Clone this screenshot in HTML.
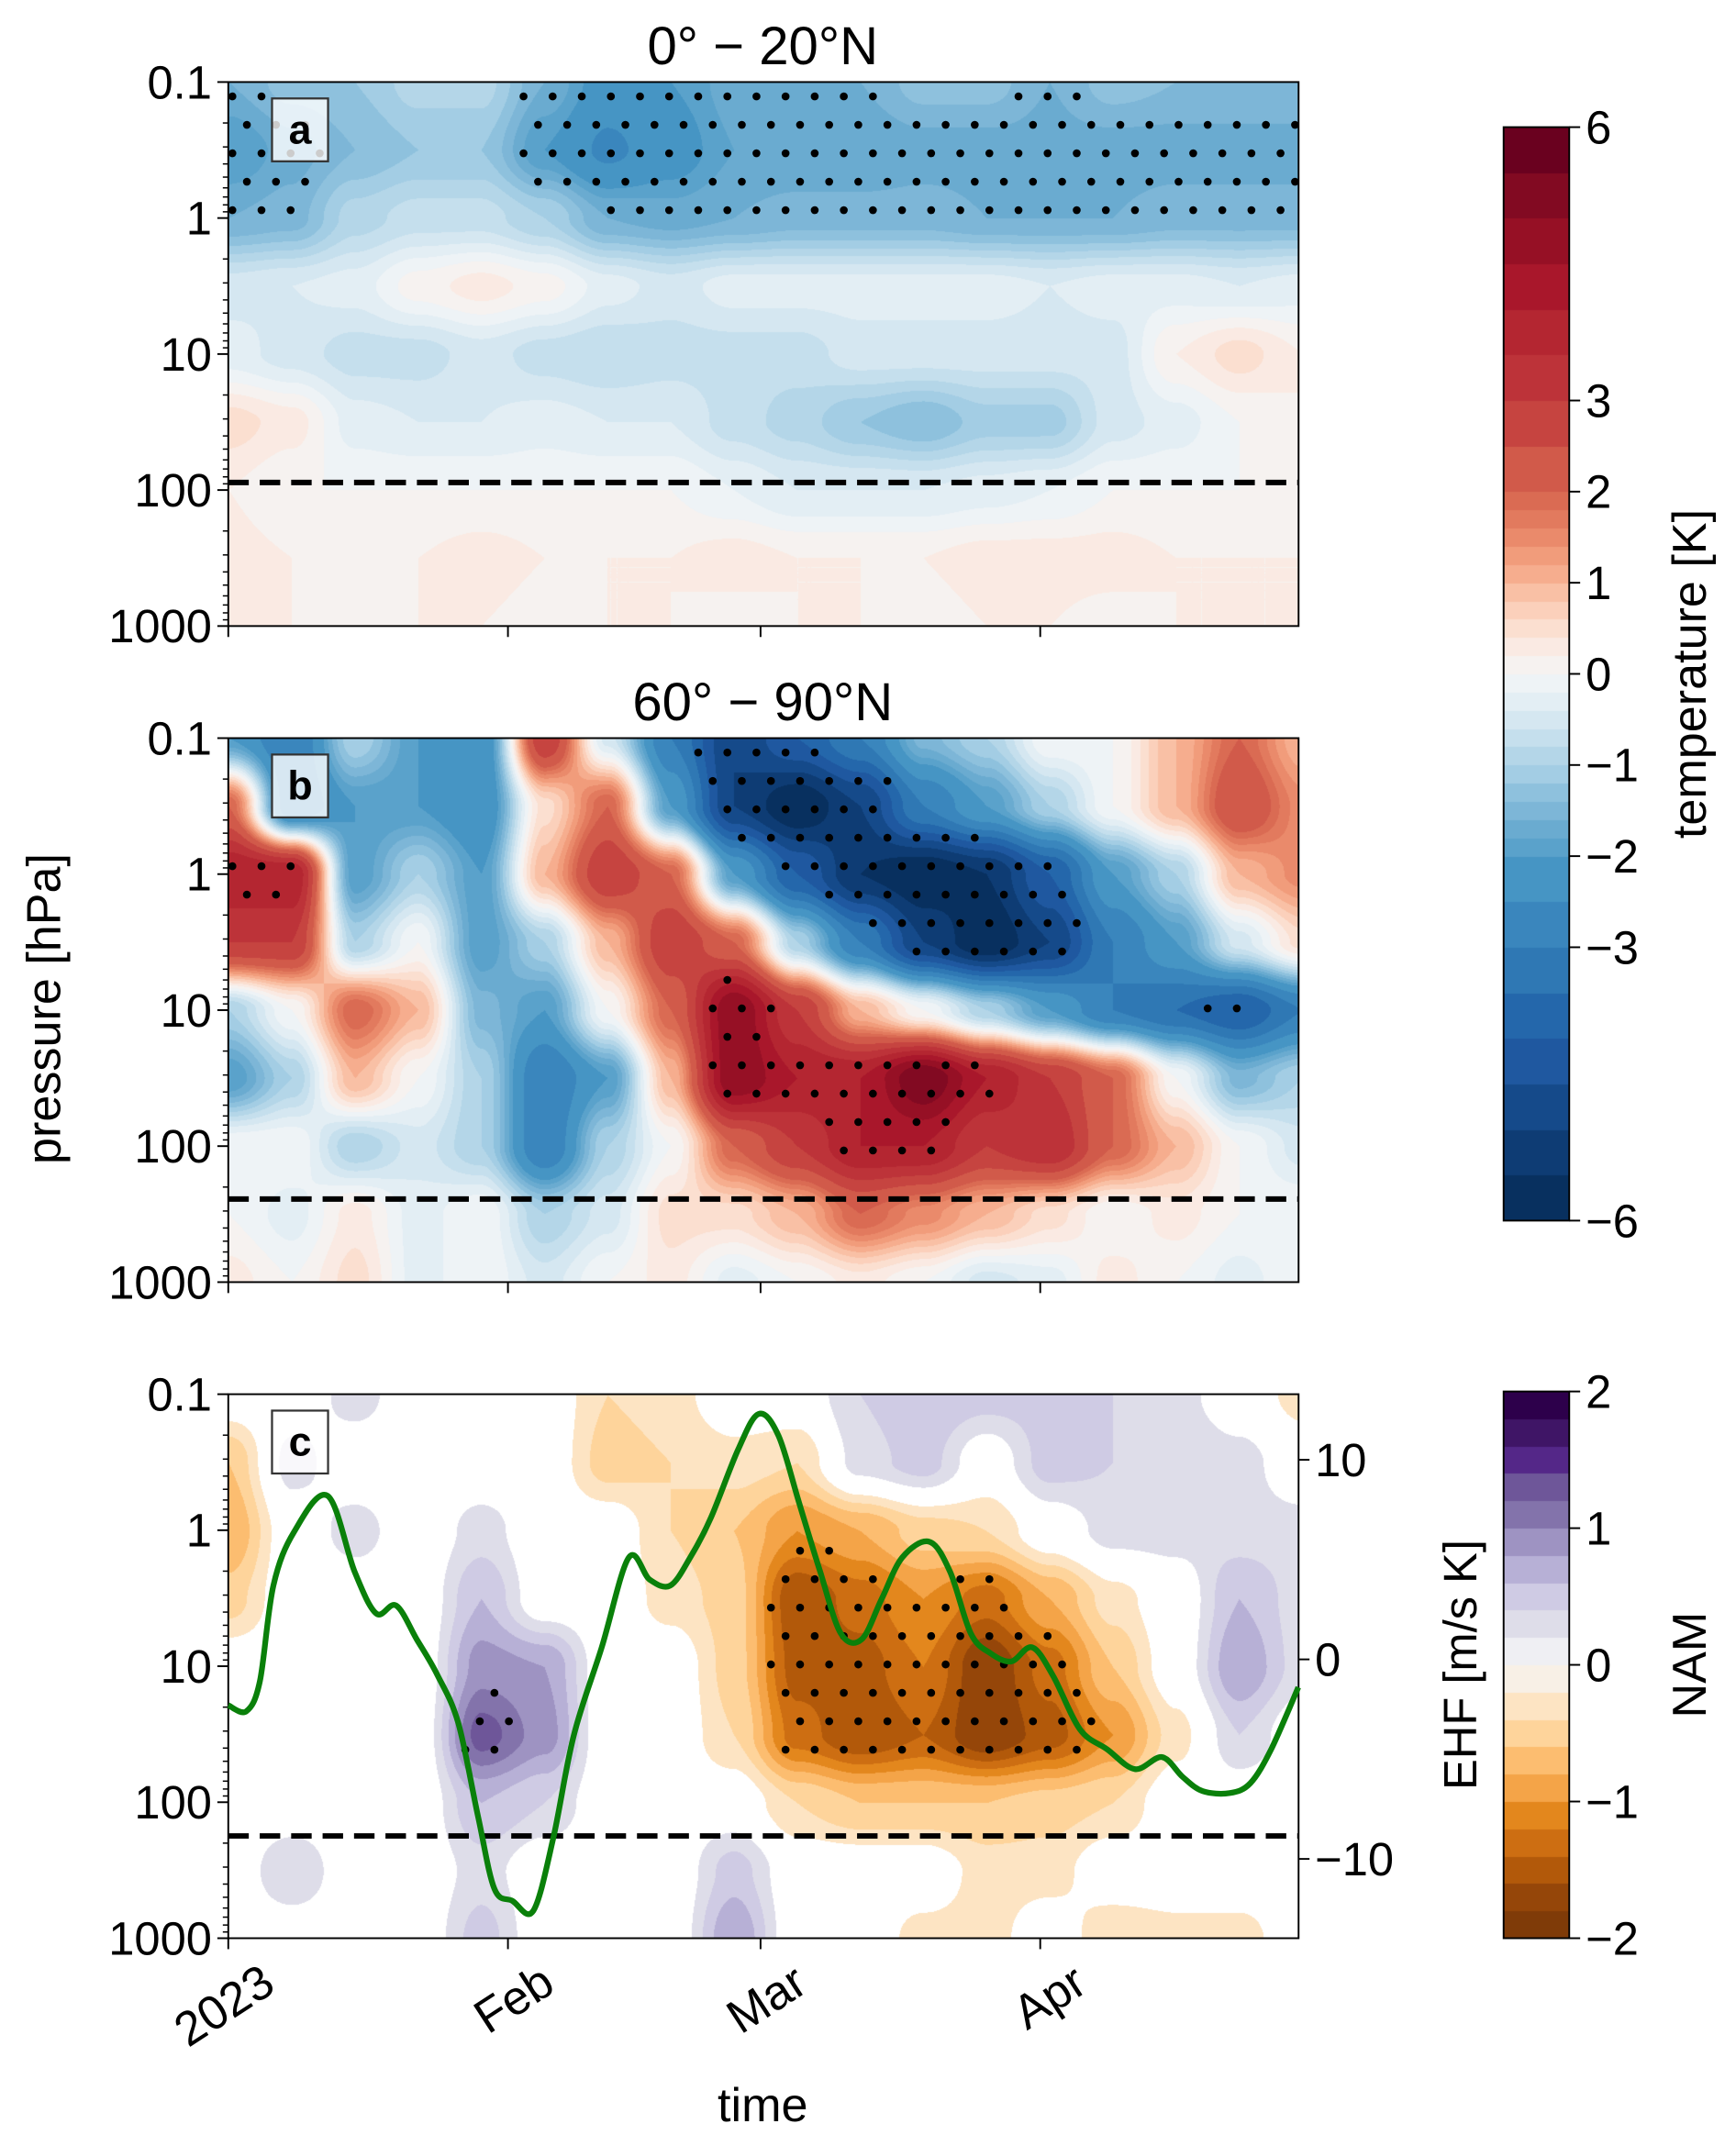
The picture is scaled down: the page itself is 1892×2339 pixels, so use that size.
<!DOCTYPE html>
<html><head><meta charset="utf-8">
<style>
html,body{margin:0;padding:0;background:#fff;}
#page{position:relative;width:1892px;height:2339px;overflow:hidden;background:#fff;}
canvas{position:absolute;}
svg{position:absolute;left:0;top:0;}
text{font-family:"Liberation Sans","DejaVu Sans",sans-serif;fill:#000;}
</style></head>
<body>
<div id="page">
<canvas id="cvA"></canvas>
<canvas id="cvB"></canvas>
<canvas id="cvC"></canvas>
<canvas id="cb1"></canvas>
<canvas id="cb2"></canvas>
<svg id="svg" width="1892" height="2339" viewBox="0 0 1270 1570"></svg>
</div>
<script>
// ---------- DATA ----------
const gridDays = [0,7,14,21,28,35,42,49,56,63,70,77,84,91,98,105,112,119];
const gridLogP = [-1,-0.5,0,0.5,1,1.5,2,2.5,3];
const tempA = [
 [-1.6,-1.3,-1.2,-0.9,-0.9,-1.6,-2.2,-2.0,-1.7,-1.7,-1.6,-1.3,-1.3,-1.6,-1.3,-1.4,-1.4,-1.4],
 [-2.0,-1.7,-1.4,-1.2,-1.2,-2.0,-2.6,-2.2,-1.8,-1.8,-1.8,-1.7,-1.7,-1.7,-1.7,-1.7,-1.7,-1.7],
 [-1.6,-1.5,-0.9,-0.7,-0.7,-1.0,-1.6,-1.7,-1.6,-1.5,-1.5,-1.5,-1.6,-1.6,-1.6,-1.5,-1.5,-1.5],
 [-0.5,-0.4,-0.3,0.1,0.3,0.1,-0.3,-0.5,-0.3,-0.3,-0.3,-0.3,-0.3,-0.4,-0.3,-0.3,-0.4,-0.3],
 [-0.3,-0.5,-0.7,-0.7,-0.5,-0.7,-0.8,-0.7,-0.7,-0.7,-0.5,-0.5,-0.5,-0.5,-0.5,0.2,0.5,0.2],
 [0.5,0.3,-0.3,-0.4,-0.4,-0.3,-0.4,-0.4,-0.7,-0.9,-1.2,-1.4,-1.1,-1.1,-0.5,-0.3,0,0.2],
 [0.2,0,0,0,0,0,0,0,-0.2,-0.4,-0.4,-0.4,-0.3,-0.2,0,0,0,0],
 [0.3,0.2,0.2,0.2,0.3,0.2,0.2,0.2,0.3,0.2,0.2,0.2,0.3,0.3,0.3,0.2,0.2,0.2],
 [0.2,0.2,0.1,0.2,0.2,0.1,0.2,0.2,0.1,0.2,0.2,0.1,0.2,0.2,0.1,0.2,0.2,0.2]
];
const tempB = [
 [-2,-3,-1,-2,-2.5,3,-0.5,-3,-5,-4,-3,-1.5,-1,0,0,1,2,1],
 [2,-3,-2,-2,-2.5,0.5,2,-2,-5,-6,-5,-3,-2,-1,0,1,2.5,1.5],
 [4,4,-2,-1,-2,1,3,2,-2,-4,-5.5,-6,-5.5,-4,-2,-1,1,1.5],
 [3,3,-1,0,-2,-1,1,3,2,-1,-3,-5,-6,-5,-3,-2,-0.5,0.5],
 [-1,0,2,1,-1.5,-2,0,2,5,3,1,0,-1,-2,-3,-3.5,-4,-3],
 [-2,-1,1,0,-1,-3,-2,1,5,4,4,5.5,4,3,2,0,-1.5,-1],
 [0,0,-1,-0.5,-1,-3,-1,0,2,3,4,4,3,3.5,2,1,0,-0.5],
 [0,-0.3,0.3,-0.3,0,-1,-0.5,0.5,0.5,1,2,1.5,1,0.5,0,0.3,0,0],
 [0.3,0,0.5,-0.3,0,-0.5,0,0.3,-0.3,0,0.3,0,-0.5,-0.3,0.3,0,-0.3,0]
];
const namC = [
 [0,0,0.3,0,0,0,-0.4,-0.3,0,0,0.4,0.6,0.5,0.5,0.4,0.3,0,-0.3],
 [-0.6,0.3,0,0,0,0,-0.5,-0.4,-0.3,-0.4,0.3,0.5,0,0.5,0.4,0.4,0.3,0],
 [-0.8,0,0.3,0,0.3,0,0,-0.4,-0.6,-1,-0.8,-0.5,-0.4,0,0.3,0.3,0.3,0.3],
 [-0.5,0,0,0,0.6,0,0,-0.3,-0.5,-1.6,-1.3,-1,-1.3,-0.8,-0.3,0,0.6,0.3],
 [0,0,0,0,0.9,0.8,0,0,-0.5,-1.5,-1.5,-1.2,-1.8,-1.3,-0.6,0,0.8,0.3],
 [0,0,0,0,1.3,0.9,0,0,-0.4,-1.3,-1.6,-1.4,-1.8,-1.5,-1,-0.3,0.4,0],
 [0,0,0,0,0.6,0.4,0,0,0,-0.4,-0.6,-0.6,-0.6,-0.5,-0.4,0,0,0],
 [0,0.4,0,0,0.3,0,0,0,0.5,0,0,0,-0.3,-0.3,0,0,0,0],
 [0,0,0,0,0.5,0,0,0,0.8,0,0,-0.3,-0.3,0,-0.4,-0.3,-0.3,0]
];
const ehfDays = [0,2,3.5,5,7.3,11,14,16.4,18.6,20.9,23.2,25.5,27.7,29.5,31.5,33.8,36,38.3,41.4,44.4,46.7,49,51.2,53.5,56.5,58.8,61,63.3,65.6,67.9,70.2,72.4,74.7,77.7,80,82.3,84.5,86.8,89.1,91.4,94.4,97.4,100.5,103.5,105.8,108,111,113.3,115.6,118.6];
const ehfVals = [-2.3,-2.6,-1.1,3.7,6.4,8.2,4.4,2.3,2.7,1.0,-0.8,-3.2,-7.9,-11.5,-12.1,-12.6,-9.0,-3.8,0.6,5.1,4.0,3.7,5.1,7.1,10.5,12.3,11.2,7.8,4.4,1.3,1.0,3.0,5.1,5.9,4.4,1.3,0.3,-0.1,0.6,-0.8,-3.5,-4.5,-5.5,-4.9,-5.9,-6.6,-6.7,-6.2,-4.5,-1.4];
const pTickLabels = ["0.1","1","10","100","1000"];
const pTickValues = [0.1,1,10,100,1000];
const monthLabels = ["2023","Feb","Mar","Apr"];
const monthDays = [0,31,59,90];
const ehfTicks = [10,0,-10];
const tempCbTicks = [6,3,2,1,0,-1,-2,-3,-6];
const namCbTicks = [2,1,0,-1,-2];
const dashedP = [88,245,177];

// ---------- GEOMETRY ----------
const S = 1892/1270;
const X0 = 167, X1 = 950, PX_PER_DAY = 6.6;
const panelTops = [60,540,1020];
const PH = 398, DEC = 99.5;
function xOf(d){return X0 + d*PX_PER_DAY;}
function yOfP(p,top){return top + (Math.log10(p)+1)*DEC;}
function dayOfX(x){return (x-X0)/PX_PER_DAY;}

function sample(g, day, lp){
  let c = (day-gridDays[0])/(gridDays[1]-gridDays[0]);
  let r = (lp-gridLogP[0])/(gridLogP[1]-gridLogP[0]);
  c = Math.max(0,Math.min(gridDays.length-1.0001,c));
  r = Math.max(0,Math.min(gridLogP.length-1.0001,r));
  const c0=Math.floor(c), r0=Math.floor(r), fc=c-c0, fr=r-r0;
  const sc = fc*fc*(3-2*fc), sr = fr*fr*(3-2*fr);
  const a=g[r0][c0], b=g[r0][c0+1], cc=g[r0+1][c0], d=g[r0+1][c0+1];
  return (a*(1-sc)+b*sc)*(1-sr)+(cc*(1-sc)+d*sc)*sr;
}
function hex(h){return [parseInt(h.substr(1,2),16),parseInt(h.substr(3,2),16),parseInt(h.substr(5,2),16)];}
const tBounds=[-6,-5.5,-5,-4.5,-4,-3.5,-3,-2.5,-2,-1.8,-1.6,-1.4,-1.2,-1,-0.8,-0.6,-0.4,-0.2,0,0.2,0.4,0.6,0.8,1,1.2,1.4,1.6,1.8,2,2.5,3,3.5,4,4.5,5,5.5,6];
const tCols=["#08305f","#0e3c74","#154a8a","#1f58a0","#2467ab","#2f78b4","#3a86bd","#4695c4","#5aa2cb","#6aabd0","#7db6d7","#8ec1dd","#a3cde4","#b4d6e8","#c5dfed","#d5e7f1","#e3eef4","#eef3f6","#f6f2f0","#faeae3","#fbdfd0","#fbd0bb","#f9c0a5","#f6ad8e","#f19c7b","#ea8a6b","#e27a5e","#da6b53","#d15a4a","#c64440","#bd3339","#b42631","#a9172b","#961025","#820a22","#6a011f"];
function tColor(v){
  if(v<=tBounds[0]) return hex(tCols[0]);
  for(let i=0;i<tCols.length;i++){ if(v<tBounds[i+1]) return hex(tCols[i]); }
  return hex(tCols[tCols.length-1]);
}
const nCols=["#7f3b08","#954609","#b2590a","#cd6e12","#e3871d","#f4a448","#fcbd70","#fed49b","#fde4c3","#f8f0e6","#efeff3","#dedde9","#cfcbe4","#b7b0d6","#9e93c2","#8373ab","#6e5699","#542788","#3f1566","#2d004b"];
function nColor(v){
  let i=Math.floor((v+2)/0.2); i=Math.max(0,Math.min(19,i)); return hex(nCols[i]);
}

function drawField(id, grid, top, colorFn, mask){
  const cv=document.getElementById(id);
  const L=Math.round(X0*S), T=Math.round(top*S), W=Math.round((X1-X0)*S), H=Math.round(PH*S);
  cv.style.left=L+'px'; cv.style.top=T+'px'; cv.width=W; cv.height=H;
  const ctx=cv.getContext('2d'); const img=ctx.createImageData(W,H);
  for(let y=0;y<H;y++){
    const lp=-1+ (y/S)/DEC;
    for(let x=0;x<W;x++){
      const day=(x/S)/PX_PER_DAY;
      const v=sample(grid,day,lp);
      const k=(y*W+x)*4;
      if(mask && Math.abs(v)<0.2){img.data[k]=255;img.data[k+1]=255;img.data[k+2]=255;img.data[k+3]=255;continue;}
      const c=colorFn(v);
      img.data[k]=c[0];img.data[k+1]=c[1];img.data[k+2]=c[2];img.data[k+3]=255;
    }
  }
  ctx.putImageData(img,0,0);
}
drawField('cvA',tempA,panelTops[0],tColor,false);
drawField('cvB',tempB,panelTops[1],tColor,false);
drawField('cvC',namC,panelTops[2],nColor,true);

function drawCb(id, top, bot, vmin, vmax, fn){
  const cv=document.getElementById(id);
  const L=Math.round(1100*S), T=Math.round(top*S), W=Math.round(48*S), H=Math.round((bot-top)*S);
  cv.style.left=L+'px'; cv.style.top=T+'px'; cv.width=W; cv.height=H;
  const ctx=cv.getContext('2d');
  for(let y=0;y<H;y++){
    const v=vmax-(y+0.5)/H*(vmax-vmin);
    const c=fn(v); ctx.fillStyle='rgb('+c.join(',')+')'; ctx.fillRect(0,y,W,1);
  }
}
drawCb('cb1',93,893,-6,6,tColor);
drawCb('cb2',1018,1418,-2,2,nColor);

// ---------- SVG ----------
const NS='http://www.w3.org/2000/svg';
const svg=document.getElementById('svg');
function mk(tag,attrs,parent){const e=document.createElementNS(NS,tag);for(const k in attrs)e.setAttribute(k,attrs[k]);(parent||svg).appendChild(e);return e;}

const panelNames=['a','b','c'];
const titles=['0\u00b0 \u2212 20\u00b0N','60\u00b0 \u2212 90\u00b0N',null];
const grids=[tempA,tempB,namC];
panelTops.forEach((top,pi)=>{
  const g=mk('g',{});
  
  
  const dots=mk('g',{},g);
  
  
  let row=0;
  for(let y=top+10.5; y<top+PH; y+=20.8, row++){
    for(let x=X0+3+(row%2?10.6:0); x<X1; x+=21.3){
      const v=sample(grids[pi],dayOfX(x),-1+(y-top)/DEC);
      let sig = pi===0 ? (v<-1.45) : pi===1 ? (Math.abs(v)>3.6) : (v<-1.0 || v>1.0);
      if(sig){
        const c=mk('circle',{cx:x.toFixed(1),cy:y.toFixed(1),r:2.9,fill:'#000'},dots);
        
        
      }
    }
  }
  const yd=yOfP(dashedP[pi],top);
  const dl=mk('line',{x1:X0,x2:X1,y1:yd,y2:yd,stroke:'#000','stroke-width':4,'stroke-dasharray':'15,8'},g);
  
  
  const fr=mk('rect',{x:X0,y:top,width:X1-X0,height:PH,fill:'none',stroke:'#000','stroke-width':1.3},g);
  
  
  pTickValues.forEach((p,i)=>{
    const y=yOfP(p,top);
    mk('line',{x1:X0-8,x2:X0,y1:y,y2:y,stroke:'#000','stroke-width':1.3},g);
    const t=mk('text',{x:X0-12,y:y+12,'text-anchor':'end','font-size':34},g);
    t.textContent=pTickLabels[i];
    
    
    if(i<4){for(let m=2;m<10;m++){const ym=yOfP(p*m,top);mk('line',{x1:X0-4,x2:X0,y1:ym,y2:ym,stroke:'#000','stroke-width':1},g);}}
  });
  monthDays.forEach(d=>{const x=xOf(d);mk('line',{x1:x,x2:x,y1:top+PH,y2:top+PH+8,stroke:'#000','stroke-width':1.3},g);});
  const bx=mk('rect',{x:199,y:top+12,width:41,height:46,fill:'rgba(255,255,255,0.8)',stroke:'#333','stroke-width':1.5},g);
  
  
  const lt=mk('text',{x:219.5,y:top+45,'text-anchor':'middle','font-size':30,'font-weight':'bold'},g);
  lt.textContent=panelNames[pi];
  
  
  if(titles[pi]){
    const tt=mk('text',{x:558,y:top-13,'text-anchor':'middle','font-size':39},g);
    tt.textContent=titles[pi];
    
    
  }
});

// EHF line
const ehfTop=1214, ehfScale=14.6;
function yEhf(v){return ehfTop - v*ehfScale;}
const pts=ehfDays.map((d,i)=>[xOf(d),yEhf(ehfVals[i])]);
let dstr='M'+pts[0][0].toFixed(1)+','+pts[0][1].toFixed(1);
for(let i=0;i<pts.length-1;i++){
  const p0=pts[Math.max(0,i-1)],p1=pts[i],p2=pts[i+1],p3=pts[Math.min(pts.length-1,i+2)];
  const c1=[p1[0]+(p2[0]-p0[0])/6,p1[1]+(p2[1]-p0[1])/6];
  const c2=[p2[0]-(p3[0]-p1[0])/6,p2[1]-(p3[1]-p1[1])/6];
  dstr+='C'+c1[0].toFixed(1)+','+c1[1].toFixed(1)+' '+c2[0].toFixed(1)+','+c2[1].toFixed(1)+' '+p2[0].toFixed(1)+','+p2[1].toFixed(1);
}
const ehf=mk('path',{d:dstr,fill:'none',stroke:'#0a800a','stroke-width':4.2,'stroke-linejoin':'round'});


ehfTicks.forEach(v=>{
  const y=yEhf(v);
  mk('line',{x1:X1,x2:X1+8,y1:y,y2:y,stroke:'#000','stroke-width':1.3});
  const t=mk('text',{x:X1+12,y:y+12,'font-size':34});
  t.textContent=(v<0?'\u2212':'')+Math.abs(v);
  
  
});
const eh=mk('text',{x:0,y:0,'text-anchor':'middle','font-size':34,transform:'translate(1080,1218) rotate(-90)'});
eh.textContent='EHF [m/s K]';



monthLabels.forEach((m,i)=>{
  const x=xOf(monthDays[i]);
  const t=mk('text',{x:0,y:0,'text-anchor':'end','font-size':35,transform:'translate('+(x+36)+',1456) rotate(-33)'});
  t.textContent=m;
  
  
});
const xt=mk('text',{x:558,y:1552,'text-anchor':'middle','font-size':35});
xt.textContent='time';


const yt=mk('text',{x:0,y:0,'text-anchor':'middle','font-size':35,transform:'translate(44,738) rotate(-90)'});
yt.textContent='pressure [hPa]';



function cbAxis(top,bot,vmin,vmax,ticks,label,name){
  const fr=mk('rect',{x:1100,y:top,width:48,height:bot-top,fill:'none',stroke:'#000','stroke-width':1.3});
  
  
  ticks.forEach(v=>{
    const y=bot-(v-vmin)/(vmax-vmin)*(bot-top);
    mk('line',{x1:1148,x2:1156,y1:y,y2:y,stroke:'#000','stroke-width':1.3});
    const t=mk('text',{x:1160,y:y+12,'font-size':34});
    t.textContent=(v<0?'\u2212':'')+Math.abs(v);
    
    
  });
  const l=mk('text',{x:0,y:0,'text-anchor':'middle','font-size':35,transform:'translate(1248,'+((top+bot)/2)+') rotate(-90)'});
  l.textContent=label;
  
  
}
cbAxis(93,893,-6,6,tempCbTicks,'temperature [K]','temperature-colorbar');
cbAxis(1018,1418,-2,2,namCbTicks,'NAM','nam-colorbar');
</script>
</body></html>
